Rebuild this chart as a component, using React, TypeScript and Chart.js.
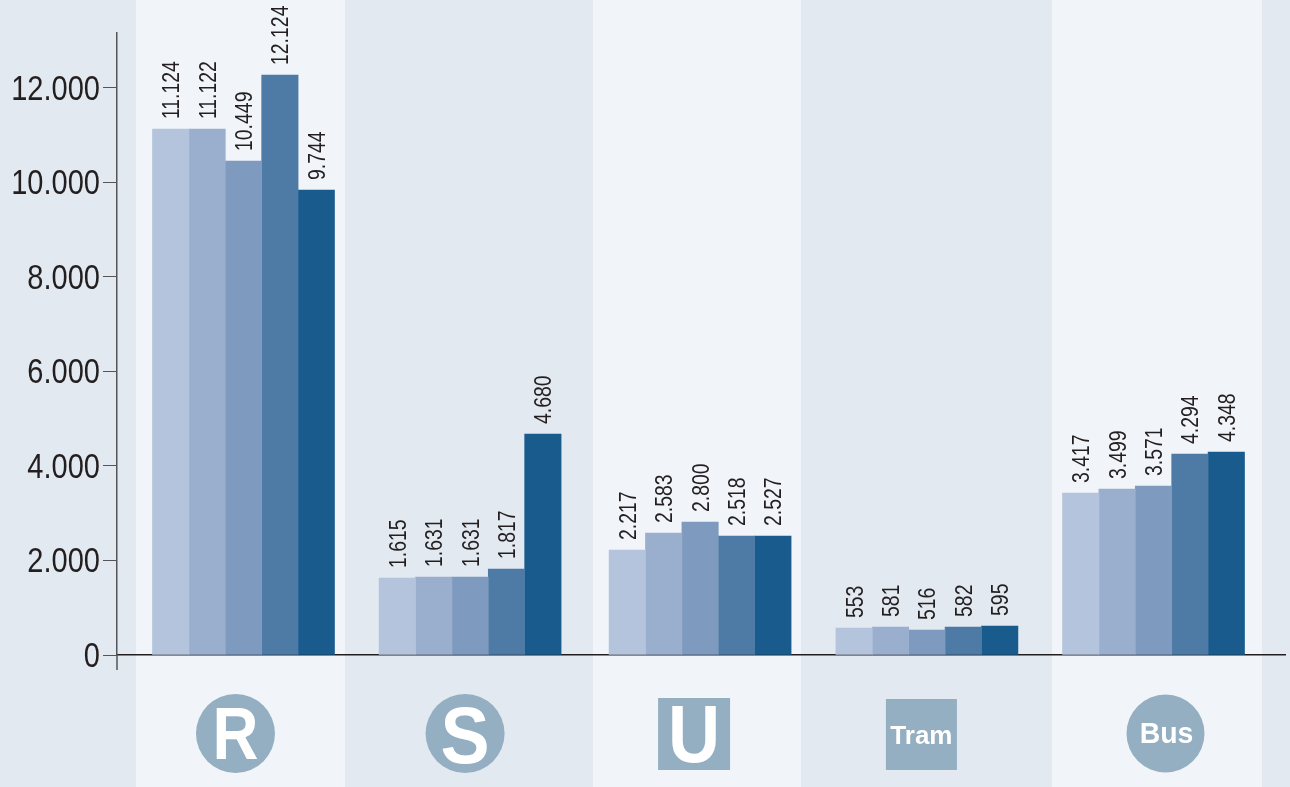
import React, { useEffect, useRef } from "react";
import { Chart, registerables } from "chart.js";

Chart.register(...registerables);

const categories = ["R", "S", "U", "Tram", "Bus"];
const groupPositions = [0, 0.996, 2.007, 3.004, 4.0];
const seriesNames = ["Series 1", "Series 2", "Series 3", "Series 4", "Series 5"];
const yTicks = [0, 2000, 4000, 6000, 8000, 10000, 12000];

// Printed value labels
const printed1 = [11124, 1615, 2217, 553, 3417];
const printed2 = [11122, 1631, 2583, 581, 3499];
const printed3 = [10449, 1631, 2800, 516, 3571];
const printed4 = [12124, 1817, 2518, 582, 4294];
const printed5 = [9744, 4680, 2527, 595, 4348];

// Bar heights, against the y axis
const heights1 = [11130, 1630, 2222, 571, 3429];
const heights2 = [11130, 1651, 2582, 593, 3513];
const heights3 = [10455, 1651, 2815, 529, 3577];
const heights4 = [12275, 1820, 2518, 593, 4254];
const heights5 = [9841, 4677, 2518, 614, 4296];

const printedAll = [printed1, printed2, printed3, printed4, printed5];
const heightsAll = [heights1, heights2, heights3, heights4, heights5];
const barColors = ["#b4c4dc", "#9aafce", "#7e9bbf", "#4e7aa6", "#195b8c"];

const SANS = '"Liberation Sans", Arial, sans-serif';
const ICON = "#94aec2";
const INK = "#231f20";
const NARROW_X = 0.83;

const BAND_BG = `linear-gradient(to right,
  #e2e9f0 0 136px, #f1f5f9 136px 345px, #e2e9f0 345px 593px, #f1f5f9 593px 801px,
  #e2e9f0 801px 1052px, #f1f5f9 1052px 1262px, #e2e9f0 1262px 1290px)`;

const fmt = (v: number) => v.toLocaleString("de-DE");

const valueLabels = {
  id: "valueLabels",
  afterDatasetsDraw(chart: any) {
    const { ctx } = chart;
    ctx.save();
    ctx.font = `24px ${SANS}`;
    ctx.fillStyle = INK;
    ctx.textAlign = "left";
    ctx.textBaseline = "alphabetic";
    chart.data.datasets.forEach((_: any, di: number) => {
      chart.getDatasetMeta(di).data.forEach((bar: any, i: number) => {
        ctx.save();
        ctx.translate(bar.x + 8.5, bar.y - 10);
        ctx.rotate(-Math.PI / 2);
        ctx.scale(0.81, 1);
        ctx.fillText(fmt(printedAll[di][i]), 0, 0);
        ctx.restore();
      });
    });
    ctx.restore();
  },
};

const yTickLabels = {
  id: "yTickLabels",
  afterDraw(chart: any) {
    const { ctx, scales, chartArea } = chart;
    ctx.save();
    ctx.font = `35px ${SANS}`;
    ctx.fillStyle = INK;
    ctx.textAlign = "right";
    ctx.textBaseline = "alphabetic";
    yTicks.forEach((v) => {
      ctx.save();
      ctx.translate(chartArea.left - 17, scales.y.getPixelForValue(v) + 12);
      ctx.scale(NARROW_X, 1);
      ctx.fillText(fmt(v), 0, 0);
      ctx.restore();
    });
    ctx.restore();
  },
};

const iconStyles = [
  { shape: "circle", dx: -8, cy: 78.5, r: 39.5, size: 74, base: 104, tdx: 0, sx: 0.86 },
  { shape: "circle", dx: -5, cy: 78.5, r: 39.5, size: 80, base: 108, tdx: 0, sx: 0.92 },
  { shape: "square", dx: -6, cy: 79, r: 36, size: 82, base: 107, tdx: 0, sx: 0.88 },
  { shape: "square", dx: -5.5, cy: 79.5, r: 35.5, size: 26, base: 89, tdx: 0, sx: 1 },
  { shape: "circle", dx: 12, cy: 78.5, r: 39, size: 29, base: 88, tdx: 1, sx: 0.98 },
];

const icons = {
  id: "icons",
  afterDraw(chart: any) {
    const { ctx, scales, chartArea } = chart;
    ctx.save();
    categories.forEach((name, i) => {
      const s = iconStyles[i];
      const cx = scales.x.getPixelForValue(groupPositions[i]) + s.dx;
      const cy = chartArea.bottom + s.cy;
      ctx.fillStyle = ICON;
      if (s.shape === "circle") {
        ctx.beginPath();
        ctx.arc(cx, cy, s.r, 0, Math.PI * 2);
        ctx.fill();
      } else {
        ctx.fillRect(cx - s.r, cy - s.r, s.r * 2, s.r * 2);
      }
      ctx.fillStyle = "#ffffff";
      ctx.font = `bold ${s.size}px ${SANS}`;
      ctx.textAlign = "center";
      ctx.textBaseline = "alphabetic";
      ctx.save();
      ctx.translate(cx + s.tdx, chartArea.bottom + s.base);
      ctx.scale(s.sx, 1);
      ctx.fillText(name, 0, 0);
      ctx.restore();
    });
    ctx.restore();
  },
};

const axisExtension = {
  id: "axisExtension",
  afterDraw(chart: any) {
    const { ctx, chartArea } = chart;
    ctx.save();
    ctx.strokeStyle = "#555558";
    ctx.lineWidth = 1.5;
    ctx.beginPath();
    ctx.moveTo(chartArea.left, chartArea.bottom);
    ctx.lineTo(chartArea.left, chartArea.bottom + 15);
    ctx.stroke();
    ctx.restore();
  },
};

export default function App() {
  const ref = useRef<HTMLCanvasElement>(null);
  useEffect(() => {
    document.body.style.margin = "0";
    const chart = new Chart(ref.current!, {
      type: "bar",
      data: {
        datasets: heightsAll.map((vals, di) => ({
          label: seriesNames[di],
          data: vals.map((y, i) => ({ x: groupPositions[i], y })),
          backgroundColor: barColors[di],
          borderWidth: 0,
          barThickness: 36.4,
        })),
      },
      options: {
        animation: false,
        responsive: false,
        layout: { padding: { top: 33, right: 5, bottom: 132, left: 0 } },
        plugins: { legend: { display: false }, tooltip: { enabled: false }, title: { display: false } },
        scales: {
          x: {
            type: "linear",
            min: -0.556,
            max: 4.578,
            offset: false,
            grid: { display: false },
            border: { display: true, color: INK, width: 1.5 },
            ticks: { display: false, stepSize: 1, includeBounds: false },
            afterFit(axis: any) { axis.height = 0; },
          },
          y: {
            min: 0,
            max: 13164,
            border: { display: true, color: "#555558", width: 1.5 },
            grid: { drawOnChartArea: false, drawTicks: true, tickLength: 14, tickColor: "#555558", tickWidth: 1 },
            ticks: { display: false },
            afterBuildTicks(axis: any) { axis.ticks = yTicks.map((value) => ({ value })); },
            afterFit(axis: any) { axis.width = 117; },
          },
        },
      },
      plugins: [valueLabels, yTickLabels, icons, axisExtension],
    } as any);
    return () => chart.destroy();
  }, []);
  return (
    <div style={{ position: "fixed", inset: 0, width: 1290, height: 787, overflow: "hidden", background: BAND_BG }}>
      <canvas ref={ref} width={1290} height={787} style={{ display: "block" }} />
    </div>
  );
}
